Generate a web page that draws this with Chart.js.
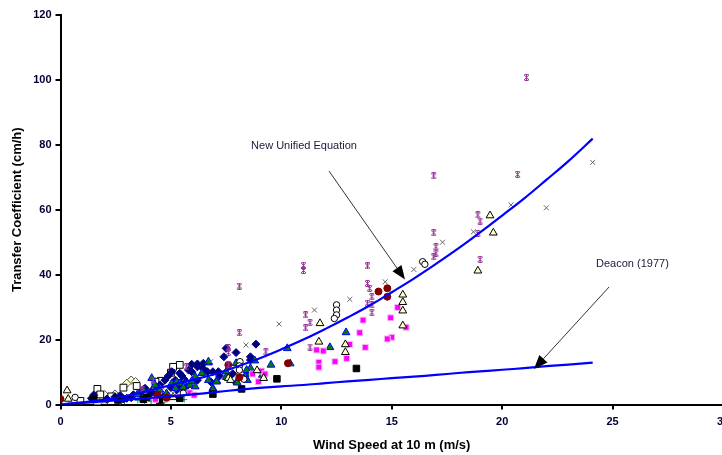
<!DOCTYPE html>
<html>
<head>
<meta charset="utf-8">
<script src="https://cdn.jsdelivr.net/npm/chart.js@4.4.1/dist/chart.umd.min.js"></script>
<style>
    html, body { margin: 0; padding: 0; background: #fff; overflow: hidden; }
    #wrap { width: 722px; height: 455px; overflow: hidden; }
</style>
</head>
<body>
<div id="wrap"><canvas id="chart" width="760" height="455"></canvas></div>
<script>
// Fitted curves (wind speed m/s -> cm/h)
const curveX = [0, 1, 2, 3, 4, 5, 6, 7, 8, 9, 10, 11, 12, 13, 14, 15, 16, 17, 18, 19, 20, 21, 22, 23, 24.1];
const unifiedY = [0, 0.7, 1.5, 2.7, 4.2, 6.0, 7.6, 9.4, 11.7, 14.2, 17.0, 20.0, 23.3, 26.8, 30.5, 34.6, 38.8, 43.3, 48.0, 53.0, 58.2, 63.5, 69.2, 75.0, 81.9];
const deaconY = [0, 0.5, 1.0, 1.5, 2.0, 2.5, 3.1, 3.8, 4.5, 5.1, 5.6, 6.0, 6.6, 7.1, 7.6, 8.1, 8.6, 9.1, 9.7, 10.2, 10.7, 11.2, 11.8, 12.3, 12.9];

// Measured points, [wind speed, coefficient]
const navyDiamonds = [[8.85,18.6],[8.6,14.7],[8.6,13.7],[7.95,16.0],[7.5,17.3],[7.4,14.7],[7.15,10.1],[6.9,10.1],[6.65,10.1],[6.47,12.7],[6.2,12.5],[6.2,11.6],[5.94,12.4],[5.94,10.1],[5.8,10.6],[5.4,9.6],[5.6,7.8],[5.5,8.8],[8.55,9.8],[6.44,11.2],[7.2,8.8],[5.04,10.1],[4.88,8.8],[4.73,7.5],[4.5,6.0],[3.83,5.0],[3.6,3.4],[3.0,1.9],[3.2,2.1],[2.85,1.7],[2.47,2.4],[2.1,1.7],[1.5,2.9],[1.4,1.9],[3.98,2.6],[4.28,2.9],[4.65,2.4],[5.26,4.5],[5.4,6.0],[5.7,5.5],[5.2,7.5],[6.2,7.5],[4.1,4.0],[4.4,5.0],[5.0,5.2],[6.8,7.0],[7.8,9.5],[3.3,3.0],[2.7,2.8]];
const greenTriangles = [[10.27,17.3],[9.53,12.2],[8.8,13.5],[8.58,9.4],[8.36,8.6],[7.5,10.1],[7.07,7.3],[6.7,12.9],[6.4,9.6],[6.1,8.6],[5.86,6.0],[5.56,6.8],[5.26,7.0],[5.04,6.5],[6.9,5.0],[8.46,7.5],[12.2,17.6],[12.93,22.2],[8.6,11.2],[9.14,9.1],[8.28,8.1],[7.98,7.0],[7.07,7.0],[6.7,7.5],[7.95,12.7],[8.0,6.7],[4.13,8.1],[4.28,6.0],[8.43,10.6],[5.94,7.2],[5.4,6.5],[4.5,4.5],[4.8,3.4],[5.2,5.0],[5.56,5.3],[6.1,5.5],[7.5,8.4],[6.9,4.7],[3.75,4.5],[3.48,3.1],[6.7,13.2],[10.4,12.6],[4.9,2.5]];
const magentaSquares = [[15.27,29.9],[14.95,26.7],[15.65,23.8],[13.7,26.0],[13.55,22.1],[13.8,17.6],[15.0,20.7],[14.8,20.2],[13.1,18.5],[12.96,14.2],[12.43,13.2],[11.6,16.8],[11.9,16.5],[11.7,13.0],[11.7,11.5],[9.1,10.3],[9.26,9.4],[8.96,7.0],[8.7,9.4],[5.86,3.6],[6.05,2.9],[4.8,1.8],[4.3,1.6]];
const blackSquares = [[13.4,11.1],[9.8,7.9],[8.2,4.8],[6.9,3.2],[5.4,1.9],[3.75,1.6],[2.6,1.4],[1.5,1.6],[4.5,1.2],[3.9,2.2]];
const openSquares = [[5.4,12.2],[5.1,11.6],[5.0,9.8],[4.55,7.3],[3.45,5.7],[2.85,5.2],[1.67,4.8],[1.8,3.1],[0.9,1.1],[2.3,2.5],[4.3,7.0]];
const creamDiamonds = [[3.2,7.5],[3.4,7.0],[3.0,6.5],[1.8,2.4],[1.64,1.9],[1.94,1.7],[2.1,1.4],[2.55,2.4],[2.47,3.2],[1.67,0.4],[2.7,1.2],[2.0,3.0]];
const openTriangles = [[19.45,58.2],[19.6,52.9],[18.9,41.2],[15.5,33.8],[15.5,31.5],[15.5,28.9],[15.5,24.3],[11.75,25.0],[11.7,19.3],[12.9,18.5],[12.9,16.1],[9.2,8.1],[7.6,8.1],[7.7,7.5],[0.3,4.3],[0.35,1.7],[5.1,2.2],[8.9,10.5]];
const openCircles = [[16.4,44.0],[16.5,43.2],[12.5,30.7],[12.5,29.1],[12.5,27.6],[12.4,26.5],[8.13,13.2],[8.1,11.9],[8.1,10.6],[0.66,2.2],[5.56,3.5],[8.3,7.8]];
const darkRed = [[14.8,35.8],[14.8,33.2],[14.4,34.8],[10.3,12.7],[8.1,8.4],[0,1.7],[4.8,2.1],[7.6,12.2],[4.4,3.0]];
const purpleStars = [[21.1,100.8],[20.7,70.9],[16.9,70.4],[18.9,58.4],[19.0,56.5],[18.9,52.7],[19.0,44.7],[16.9,52.9],[17.0,48.6],[17.0,46.6],[16.9,45.5],[11.0,42.9],[11.0,41.3],[13.9,42.7],[8.1,36.5],[13.9,37.3],[14.0,35.8],[14.1,33.2],[14.1,30.7],[13.9,31.2],[14.1,28.3],[11.1,27.6],[11.3,25.2],[11.1,23.6],[8.1,22.1],[9.3,16.2],[11.3,17.7],[7.6,17.5],[7.6,16.0],[7.6,12.2],[5.7,11.6],[3.7,4.7],[4.2,7.5]];
const grayCrosses = [[24.1,74.6],[22.0,60.6],[20.4,61.5],[18.7,53.2],[17.3,50.0],[16.0,41.6],[14.7,37.8],[13.1,32.4],[11.5,29.1],[9.9,24.8],[8.4,18.3],[6.8,13.2],[4.6,5.4],[5.1,3.5]];
const tealPlus = [[4.5,1.7],[3.5,1.3],[4.7,0.8],[5.2,2.5],[3.8,0.6],[2.9,0.9],[5.6,1.5],[4.1,1.0]];

const xTicks = [0, 5, 10, 15, 20, 25, 30];
const yTicks = [0, 20, 40, 60, 80, 100, 120];

// annotation texts with arrows, given in data units
const notes = [
    { text: 'New Unified Equation', at: [8.63, 79.6], from: [12.16, 71.9], to: [15.6, 38.5] },
    { text: 'Deacon (1977)', at: [24.25, 43.2], from: [24.84, 36.2], to: [21.44, 10.9] },
];

const toPts = arr => arr.map(([x, y]) => ({ x, y }));

// Excel-style star marker (X with a vertical bar), small
function starMarker(color) {
    const c = document.createElement('canvas');
    c.width = 7; c.height = 7;
    const g = c.getContext('2d');
    g.strokeStyle = color;
    g.lineWidth = 1;
    g.beginPath();
    g.moveTo(1, 1); g.lineTo(6, 6);
    g.moveTo(6, 1); g.lineTo(1, 6);
    g.moveTo(3.5, 0.5); g.lineTo(3.5, 6.5);
    g.moveTo(1.5, 0.5); g.lineTo(5.5, 0.5);
    g.moveTo(1.5, 6.5); g.lineTo(5.5, 6.5);
    g.stroke();
    return c;
}

function scatterSet(label, data, style, radius, fill, border, width) {
    return {
        type: 'scatter',
        label,
        data: toPts(data),
        pointStyle: style,
        pointRadius: radius,
        pointHoverRadius: radius,
        backgroundColor: fill,
        borderColor: border,
        borderWidth: width,
        order: 2,
    };
}

function curveSet(label, ys) {
    return {
        type: 'scatter',
        label,
        data: curveX.map((x, i) => ({ x, y: ys[i] })),
        showLine: true,
        borderColor: '#0000FF',
        borderWidth: 2.2,
        pointRadius: 0,
        tension: 0.4,
        fill: false,
        order: 1,
    };
}

const arrowPlugin = {
    id: 'arrows',
    afterDatasetsDraw(chart) {
        const { ctx, scales: { x, y } } = chart;
        ctx.save();
        notes.forEach(n => {
            ctx.font = '11px "Liberation Sans", Arial, sans-serif';
            ctx.fillStyle = '#1a1a3a';
            ctx.textBaseline = 'middle';
            ctx.textAlign = 'left';
            ctx.fillText(n.text, x.getPixelForValue(n.at[0]), y.getPixelForValue(n.at[1]));

            const x1 = x.getPixelForValue(n.from[0]), y1 = y.getPixelForValue(n.from[1]);
            const x2 = x.getPixelForValue(n.to[0]), y2 = y.getPixelForValue(n.to[1]);
            const ang = Math.atan2(y2 - y1, x2 - x1);
            const len = 14, half = 5.5;
            const bx = x2 - len * Math.cos(ang), by = y2 - len * Math.sin(ang);
            ctx.strokeStyle = '#333';
            ctx.lineWidth = 1;
            ctx.beginPath();
            ctx.moveTo(x1, y1);
            ctx.lineTo(bx, by);
            ctx.stroke();
            ctx.fillStyle = '#000';
            ctx.beginPath();
            ctx.moveTo(x2, y2);
            ctx.lineTo(bx + half * Math.sin(ang), by - half * Math.cos(ang));
            ctx.lineTo(bx - half * Math.sin(ang), by + half * Math.cos(ang));
            ctx.closePath();
            ctx.fill();
        });
        ctx.restore();
    },
};

const tickFont = { family: '"Liberation Sans", Arial, sans-serif', size: 11, weight: 'bold' };
const titleFont = { family: '"Liberation Sans", Arial, sans-serif', size: 13, weight: 'bold' };

new Chart(document.getElementById('chart'), {
    data: {
        datasets: [
            curveSet('New Unified Equation', unifiedY),
            curveSet('Deacon (1977)', deaconY),
            scatterSet('Purple', purpleStars, starMarker('#993399'), 3.5, '#993399', '#993399', 1),
            scatterSet('Gray', grayCrosses, 'crossRot', 3.5, '#666', '#666', 1),
            scatterSet('Dark red', darkRed, 'circle', 3.5, '#800000', '#800000', 1),
            scatterSet('Open circles', openCircles, 'circle', 3.2, '#fff', '#000', 1),
            scatterSet('Open triangles', openTriangles, 'triangle', 4.5, '#FFFFCC', '#000', 1),
            scatterSet('Magenta', magentaSquares, 'rect', 4.2, '#FF00FF', '#f0c0f0', 1),
            scatterSet('Black', blackSquares, 'rect', 4.6, '#000', '#000', 1),
            scatterSet('Green', greenTriangles, 'triangle', 4.5, '#008000', '#0000FF', 1),
            scatterSet('Navy', navyDiamonds, 'rectRot', 4, '#000080', '#000080', 1),
            scatterSet('Open squares', openSquares, 'rect', 4.8, '#fff', '#000', 1),
            scatterSet('Cream diamonds', creamDiamonds, 'rectRot', 4.2, '#FFFFCC', '#555', 1),
            scatterSet('Teal', tealPlus, 'cross', 3, '#008080', '#008080', 1),
        ],
    },
    options: {
        responsive: false,
        animation: false,
        layout: { padding: { left: 0, top: 15, right: 37, bottom: 0 } },
        plugins: {
            legend: { display: false },
            tooltip: { enabled: false },
        },
        scales: {
            x: {
                type: 'linear',
                min: 0,
                max: 30,
                afterBuildTicks: s => { s.ticks = xTicks.map(v => ({ value: v })); },
                afterFit: s => { s.height = 50.5; },
                ticks: { color: '#000033', font: tickFont, padding: 6, maxRotation: 0 },
                grid: { drawOnChartArea: false, drawTicks: true, tickLength: 5, color: '#000', lineWidth: 2 },
                border: { display: true, color: '#000', width: 2 },
                title: { display: true, text: 'Wind Speed at 10 m (m/s)', color: '#000', font: titleFont, padding: { top: 0, bottom: 2 } },
            },
            y: {
                type: 'linear',
                min: 0,
                max: 120,
                afterBuildTicks: s => { s.ticks = yTicks.map(v => ({ value: v })); },
                afterFit: s => { s.width = 60.5; },
                ticks: { color: '#000033', font: tickFont, padding: 4 },
                grid: { drawOnChartArea: false, drawTicks: true, tickLength: 5, color: '#000', lineWidth: 2 },
                border: { display: true, color: '#000', width: 2 },
                title: { display: true, text: 'Transfer Coefficient (cm/h)', color: '#000', font: titleFont, padding: { top: 10, bottom: 0 } },
            },
        },
    },
    plugins: [arrowPlugin],
});
</script>
</body>
</html>
